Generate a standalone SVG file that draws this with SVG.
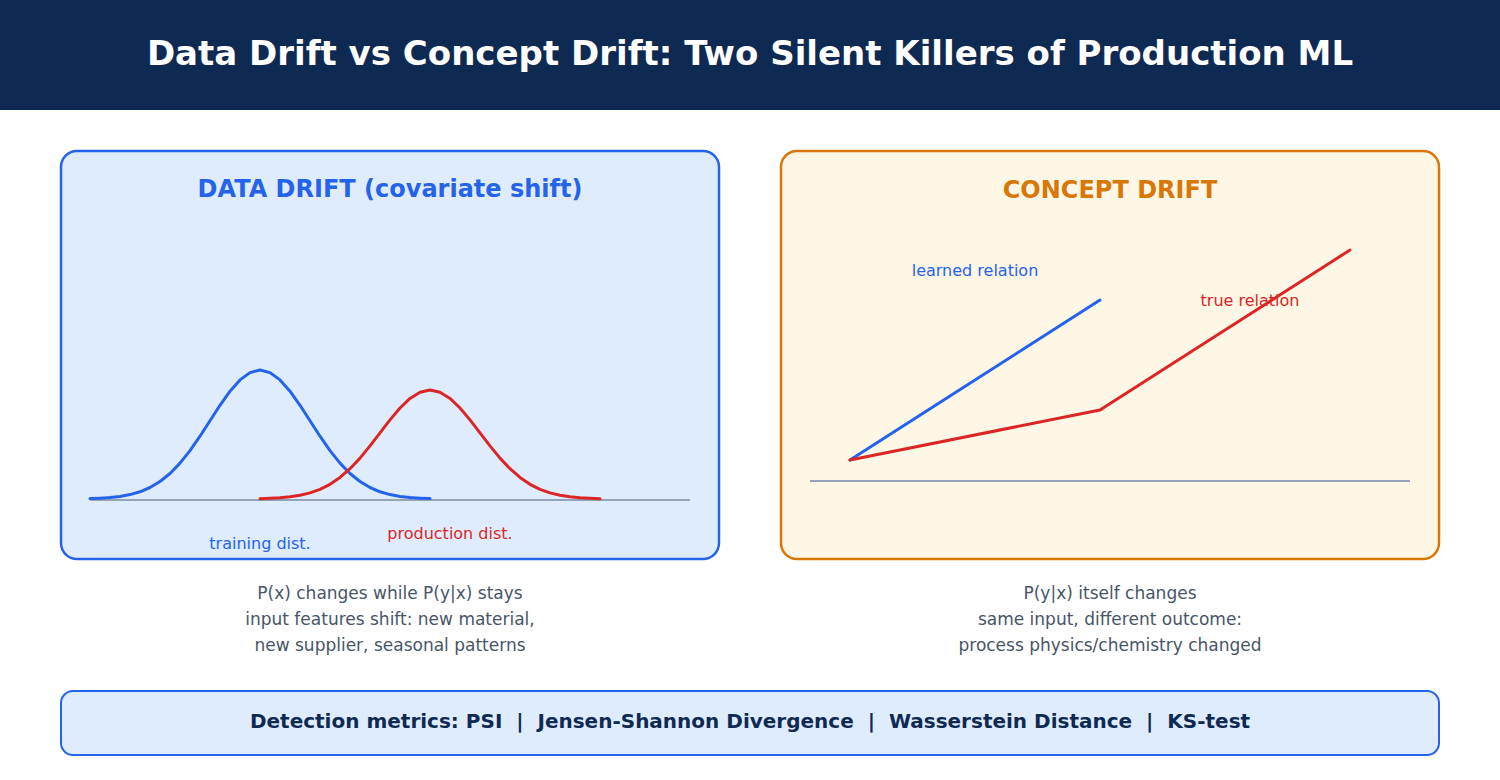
<svg xmlns="http://www.w3.org/2000/svg" width="1500" height="780" viewBox="0 0 1500 780">
<style>
text{font-family:"DejaVu Sans","Liberation Sans",sans-serif}
.ptitle{font-size:24px;font-weight:bold;text-anchor:middle}
.lbl{font-size:16px;text-anchor:middle}
.desc{font-size:17px;fill:#475569;text-anchor:middle}
.axis{stroke:#94a3b8;stroke-width:2;fill:none}
.blue{stroke:#2563eb;stroke-width:3;fill:none;stroke-linejoin:round;stroke-linecap:round}
.red{stroke:#dc2626;stroke-width:3;fill:none;stroke-linejoin:round;stroke-linecap:round}
</style>
<rect x="0" y="0" width="1500" height="780" fill="#ffffff"/>
<g id="header">
<rect x="0" y="0" width="1500" height="110" fill="#0f2a52"/>
<text x="750" y="65" font-size="34" font-weight="bold" fill="#ffffff" text-anchor="middle">Data Drift vs Concept Drift: Two Silent Killers of Production ML</text>
</g>
<g id="data-drift">
<rect x="61" y="151" width="658" height="408" rx="16" fill="#dfecfe" stroke="#2563eb" stroke-width="2.5"/>
<text class="ptitle" x="390" y="197" fill="#2563eb">DATA DRIFT (covariate shift)</text>
<line class="axis" x1="90" y1="500" x2="690" y2="500"/>
<polyline class="blue" points="90,498.6 100,498.2 110,497.6 120,496.4 130,494.6 140,491.8 150,487.5 160,481.5 170,473.5 180,463.1 190,450.6 200,436.2 210,420.8 220,405.3 230,391.2 240,379.9 250,372.6 260,370 270,372.6 280,379.9 290,391.2 300,405.3 310,420.8 320,436.2 330,450.6 340,463.1 350,473.5 360,481.5 370,487.5 380,491.8 390,494.6 400,496.4 410,497.6 420,498.2 430,498.6"/>
<polyline class="red" points="260,498.7 270,498.3 280,497.8 290,496.8 300,495.3 310,492.9 320,489.3 330,484.3 340,477.4 350,468.7 360,458.1 370,445.9 380,432.9 390,419.9 400,408 410,398.4 420,392.2 430,390 440,392.2 450,398.4 460,408 470,419.9 480,432.9 490,445.9 500,458.1 510,468.7 520,477.4 530,484.3 540,489.3 550,492.9 560,495.3 570,496.8 580,497.8 590,498.3 600,498.7"/>
<text class="lbl" x="260" y="549" fill="#2563eb">training dist.</text>
<text class="lbl" x="450" y="539" fill="#dc2626">production dist.</text>
</g>
<g id="concept-drift">
<rect x="781" y="151" width="658" height="408" rx="16" fill="#fef7e6" stroke="#d97706" stroke-width="2.5"/>
<text class="ptitle" x="1110" y="198" fill="#d97706">CONCEPT DRIFT</text>
<line class="axis" x1="810" y1="481" x2="1410" y2="481"/>
<line class="blue" x1="850" y1="460" x2="1100" y2="300"/>
<polyline class="red" points="850,460 1100,410 1350,250"/>
<text class="lbl" x="975" y="276" fill="#2563eb">learned relation</text>
<text class="lbl" x="1250" y="306" fill="#dc2626">true relation</text>
</g>
<g id="data-drift-desc">
<text class="desc" x="390" y="599">P(x) changes while P(y|x) stays</text>
<text class="desc" x="390" y="625">input features shift: new material,</text>
<text class="desc" x="390" y="651">new supplier, seasonal patterns</text>
</g>
<g id="concept-drift-desc">
<text class="desc" x="1110" y="599">P(y|x) itself changes</text>
<text class="desc" x="1110" y="625">same input, different outcome:</text>
<text class="desc" x="1110" y="651">process physics/chemistry changed</text>
</g>
<g id="metrics">
<rect x="61" y="691" width="1378" height="64" rx="12" fill="#dfecfe" stroke="#2563eb" stroke-width="2"/>
<text x="750" y="728" font-size="20" font-weight="bold" fill="#0f2a52" text-anchor="middle" xml:space="preserve">Detection metrics: PSI  |  Jensen-Shannon Divergence  |  Wasserstein Distance  |  KS-test</text>
</g>
<g id="connectors"></g>
</svg>
